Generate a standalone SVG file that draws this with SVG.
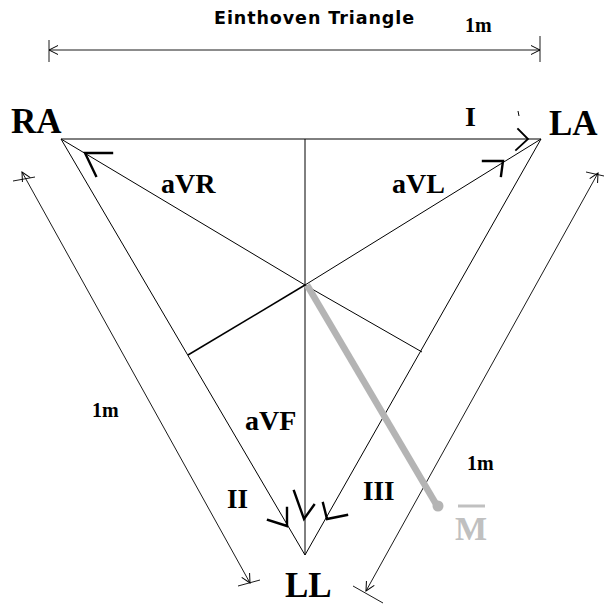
<svg xmlns="http://www.w3.org/2000/svg" width="607" height="605" viewBox="0 0 607 605">
<defs>
<style>
.ln{stroke:#000;stroke-width:1;fill:none}
.dim{stroke:#000;stroke-width:0.9;fill:none}
.hd{stroke:#000;stroke-width:2.4;fill:none;stroke-linecap:square}
.lb{font-family:"Liberation Serif","Times New Roman",serif;font-weight:bold;fill:#000}
.ttl{font-family:"DejaVu Sans","Liberation Sans",sans-serif;font-weight:bold;font-size:17.5px;fill:#000}
</style>
<marker id="oa" viewBox="0 0 12 12" refX="11" refY="6" markerWidth="12" markerHeight="12" markerUnits="userSpaceOnUse" orient="auto-start-reverse">
<path d="M2,1.5 L11,6 L2,10.5" fill="none" stroke="#000" stroke-width="1"/>
</marker>
</defs>
<rect width="607" height="605" fill="#fff"/>
<g id="title"><text class="ttl" x="214" y="24" textLength="200" lengthAdjust="spacing">Einthoven Triangle</text></g>
<g id="connectors">
<!-- top dimension -->
<line class="dim" x1="49" y1="50" x2="540" y2="50" marker-start="url(#oa)" marker-end="url(#oa)"/>
<line class="dim" x1="49" y1="40" x2="49" y2="62"/>
<line class="dim" x1="540" y1="36" x2="540" y2="62"/>
<!-- left dimension -->
<line class="dim" x1="22" y1="172" x2="250" y2="583" marker-start="url(#oa)" marker-end="url(#oa)"/>
<line class="dim" x1="13" y1="181" x2="35" y2="177"/>
<line class="dim" x1="238" y1="586" x2="260" y2="580"/>
<!-- right dimension -->
<line class="dim" x1="598" y1="173" x2="366" y2="591" marker-start="url(#oa)" marker-end="url(#oa)"/>
<line class="dim" x1="586" y1="172" x2="604" y2="176"/>
<line class="dim" x1="353" y1="586" x2="383" y2="603"/>
<!-- triangle -->
<line class="ln" x1="61" y1="139" x2="541" y2="139"/>
<line class="ln" x1="61" y1="139" x2="305" y2="555"/>
<line class="ln" x1="541" y1="139" x2="305" y2="555"/>
<!-- augmented leads -->
<line class="ln" x1="305" y1="139" x2="305" y2="555"/>
<line class="ln" x1="61" y1="139" x2="305" y2="285"/>
<line class="ln" x1="541" y1="139" x2="305" y2="285"/>
<!-- perpendiculars -->
<line class="ln" x1="305" y1="285" x2="188" y2="355" style="stroke-width:1.5"/>
<line class="ln" x1="305" y1="285" x2="422" y2="352"/>
<!-- arrowheads -->
<path class="hd" d="M112,153 L85,153 L96,176"/>
<path class="hd" d="M483,161 L503,161 L501,176"/>
<path class="hd" d="M518,129 L528,139 L516,150" style="stroke-width:1.8"/>
<path class="hd" d="M268,520 L287,526 L287,508"/>
<path class="hd" d="M294,491 L304,519 L314,505"/>
<path class="hd" d="M323,503 L327,519 L347,515"/>
<line x1="518" y1="111" x2="519" y2="116" stroke="#000" stroke-width="1"/>
<!-- M vector -->
<line x1="307" y1="285" x2="436" y2="504" stroke="#b4b4b4" stroke-width="6.5"/>
<circle cx="438" cy="506" r="5.5" fill="#b4b4b4"/>
</g>
<g id="RA"><text class="lb" x="11" y="133" font-size="35">RA</text></g>
<g id="LA"><text class="lb" x="549" y="135" font-size="35">LA</text></g>
<g id="LL"><text class="lb" x="285" y="597" font-size="35">LL</text></g>
<g id="lead-I"><text class="lb" x="465" y="126" font-size="28">I</text></g>
<g id="lead-II"><text class="lb" x="227" y="508" font-size="27">II</text></g>
<g id="lead-III"><text class="lb" x="363" y="500" font-size="27">III</text></g>
<g id="aVR"><text class="lb" x="161" y="193" font-size="28">aVR</text></g>
<g id="aVL"><text class="lb" x="392" y="193" font-size="28">aVL</text></g>
<g id="aVF"><text class="lb" x="245" y="430" font-size="28">aVF</text></g>
<g id="dim-labels">
<text class="lb" x="465" y="32" font-size="20">1m</text>
<text class="lb" x="92" y="417" font-size="20">1m</text>
<text class="lb" x="467" y="470" font-size="20">1m</text>
</g>
<g id="M">
<line x1="458" y1="506" x2="485" y2="506" stroke="#c0c0c0" stroke-width="3"/>
<text class="lb" x="455" y="540" font-size="34" style="fill:#c0c0c0">M</text>
</g>
</svg>
